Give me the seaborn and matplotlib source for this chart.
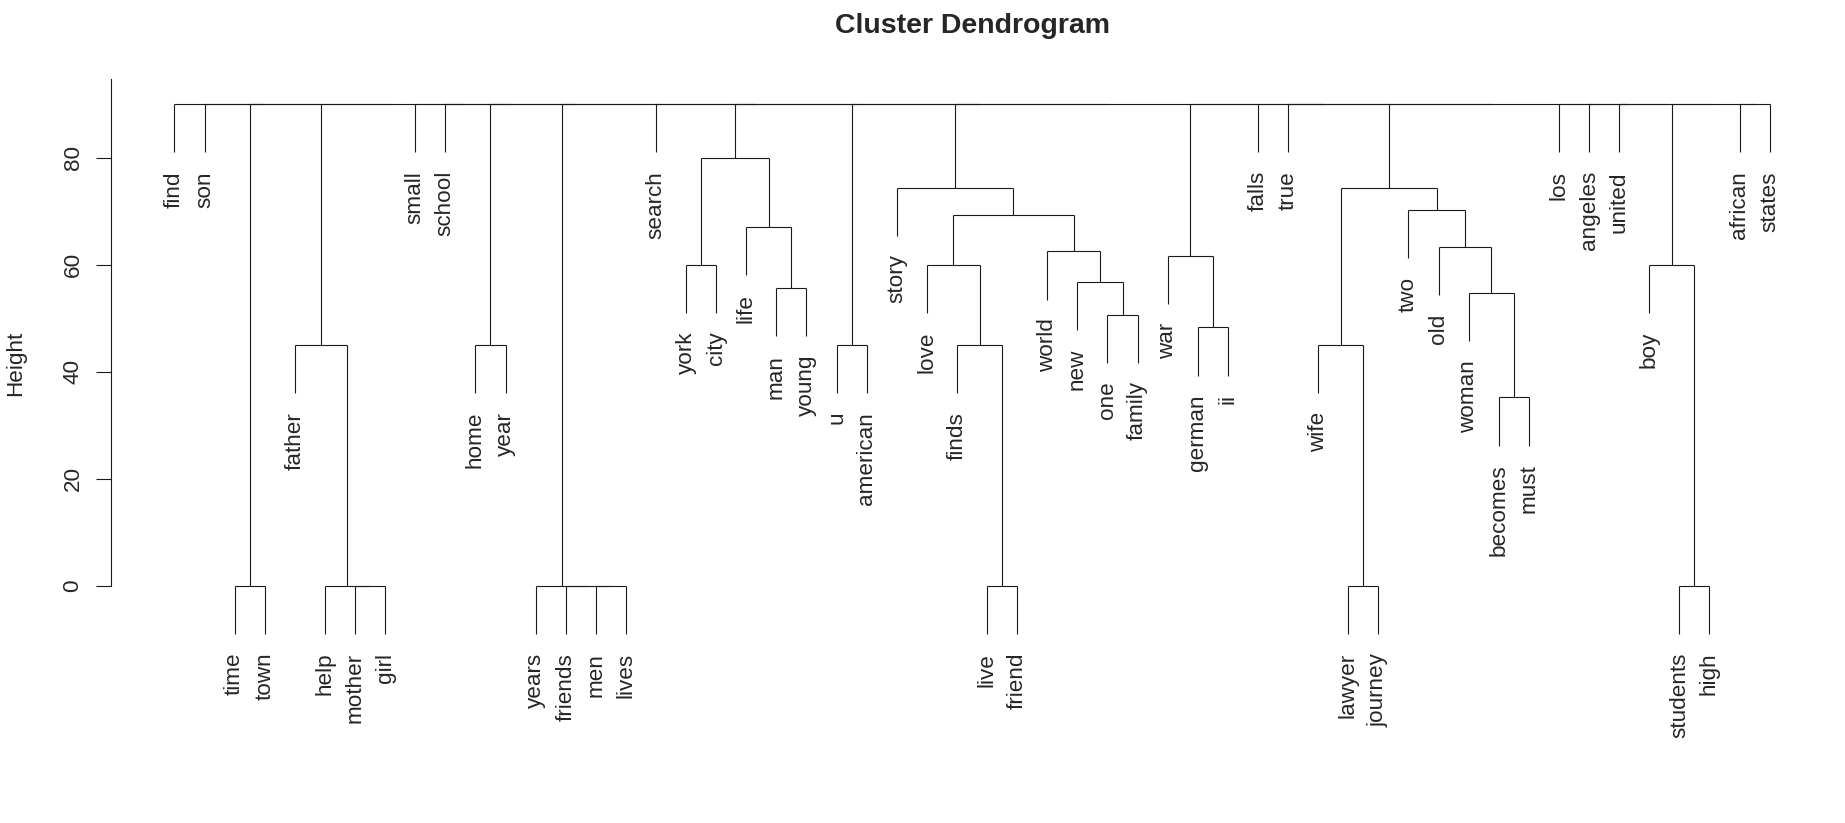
import matplotlib
matplotlib.use("Agg")
import matplotlib.pyplot as plt
import seaborn as sns

# leaves, left to right as they sit on the plot
labels = ["find", "son", "time", "town", "father", "help", "mother", "girl",
          "small", "school", "home", "year", "years", "friends", "men", "lives",
          "search", "york", "city", "life", "man", "young", "u", "american",
          "story", "love", "finds", "live", "friend", "world", "new", "one",
          "family", "war", "german", "ii", "falls", "true", "wife", "lawyer",
          "journey", "two", "old", "woman", "becomes", "must", "los", "angeles",
          "united", "boy", "students", "high", "african", "states"]

# merge steps (like hclust$merge): a string is a leaf, an int is an earlier step
merge_left = ["time", "mother", "help", "father", "home",
              "men", "friends", "years", "york", "man", "life", 8,
              "u", "live", "finds", "love", "one", "new", "world", 15, "story",
              "german", "war", "lawyer", "wife", "becomes", "woman", "old", "two", 24,
              "students", "boy",
              "african", 31, "united", "angeles", "los", 29, "true", "falls", 22, 20,
              12, 11, "search", 7, 4, "school", "small", 3, 0, "son", "find"]
merge_right = ["town", "girl", 1, 2, "year",
               "lives", 5, 6, "city", "young", 9, 10,
               "american", "friend", 13, 14, "family", 16, 17, 18, 19,
               "ii", 21, "journey", 23, "must", 25, 26, 27, 28,
               "high", 30,
               "states", 32, 33, 34, 35, 36, 37, 38, 39, 40,
               41, 42, 43, 44, 45, 46, 47, 48, 49, 50, 51]
merge_height = [0, 0, 0, 45, 45,
                0, 0, 0, 60, 55.7, 67, 80,
                45, 0, 45, 60, 50.7, 56.8, 62.5, 69.3, 74.4,
                48.3, 61.7, 0, 45, 35.2, 54.7, 63.3, 70.2, 74.4,
                0, 60,
                90, 90, 90, 90, 90, 90, 90, 90, 90, 90,
                90, 90, 90, 90, 90, 90, 90, 90, 90, 90, 90]

hang = 0.1 * max(merge_height)

sns.set_style("white")
plt.rcParams["font.family"] = ["Liberation Sans", "DejaVu Sans"]

fig = plt.figure(figsize=(18.45, 8.23), dpi=100)
ax = fig.add_axes([0.05995, 0.210, 0.9338, 0.696])

line_kw = dict(color="#1a1a1a", lw=0.8, solid_capstyle="butt")
fs = 16.2


def child_pos(c):
    # x position and top height of a child
    if isinstance(c, str):
        return labels.index(c) + 1, None
    return node_x[c], merge_height[c]


node_x = []
for left, right, h in zip(merge_left, merge_right, merge_height):
    xs = []
    for c in (left, right):
        x, top = child_pos(c)
        if top is None:
            # leaf hangs below the merge and carries its label
            bottom = h - hang
            ax.annotate(c, (x, bottom), xytext=(0, -13.5), textcoords="offset points",
                        rotation=90, ha="center", va="top", fontsize=fs)
        else:
            bottom = top
        ax.plot([x, x], [bottom, h], **line_kw)
        xs.append(x)
    ax.plot(xs, [h, h], **line_kw)
    node_x.append(sum(xs) / 2)

n = len(labels)
ax.set_xlim(1 - 0.04 * (n - 1), n + 0.04 * (n - 1))
ax.set_ylim(-12, 95)
ax.set_xticks([])
ax.set_yticks([0, 20, 40, 60, 80])
ax.tick_params(axis="y", left=True, length=10.5, width=0.8, pad=9,
               labelsize=fs, labelrotation=90, color="#1a1a1a")
for t in ax.get_yticklabels():
    t.set_va("center")

sns.despine(ax=ax, top=True, right=True, bottom=True)
ax.spines["left"].set_bounds(0, 94.7)
ax.spines["left"].set_linewidth(0.8)
ax.spines["left"].set_color("#1a1a1a")

ax.set_ylabel("Height", fontsize=fs)
ax.yaxis.label.set_va("center")
ax.yaxis.set_label_coords(-0.055, 0.5)
ax.set_title("Cluster Dendrogram", fontsize=20.5, fontweight="bold", pad=32)

fig.savefig("out.png", dpi=100)
